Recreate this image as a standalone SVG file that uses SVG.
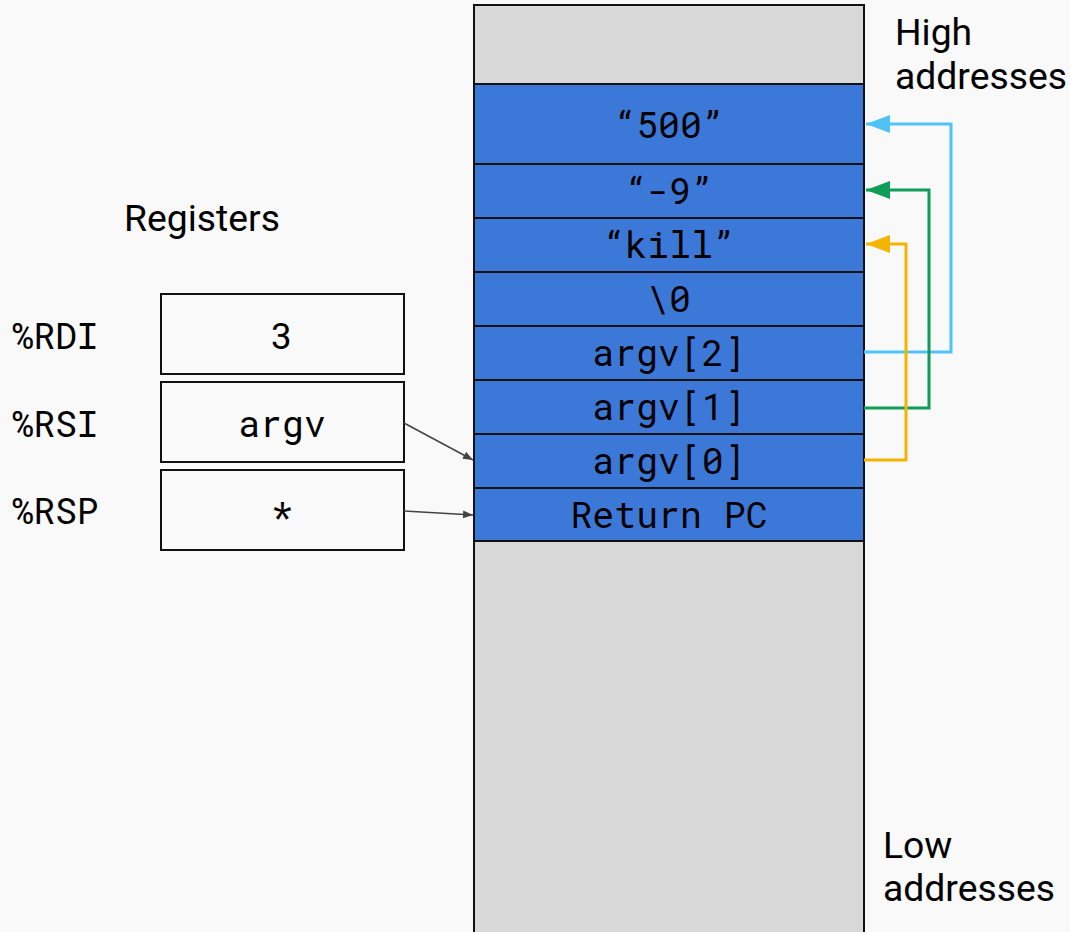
<svg xmlns="http://www.w3.org/2000/svg" width="1070" height="932" viewBox="0 0 1070 932">
<defs>
<style>
.mono{font-family:"Roboto Mono","DejaVu Sans Mono","Liberation Mono",monospace;font-size:36.5px;fill:#000;text-anchor:middle}
.lbl{font-family:"Roboto Mono","DejaVu Sans Mono","Liberation Mono",monospace;font-size:36px;fill:#000}
.sans{font-family:Roboto,"Liberation Sans",Arial,sans-serif;font-size:37.3px;fill:#000}
.cell{fill:#3c78d8;stroke:#111;stroke-width:2}
.gray{fill:#d9d9d9;stroke:#111;stroke-width:2}
.reg{fill:#fafafa;stroke:#111;stroke-width:2}
.ptr{fill:none;stroke:#444;stroke-width:1.5}
.link{fill:none;stroke-width:3}
</style>
<marker id="ah" markerWidth="10" markerHeight="8" refX="10" refY="4" orient="auto" markerUnits="userSpaceOnUse"><path d="M0,0 L10,4 L0,8 z" fill="#444"/></marker>
<marker id="ab" markerWidth="24" markerHeight="18" refX="24" refY="9" orient="auto" markerUnits="userSpaceOnUse"><path d="M0,0 L24,9 L0,18 z" fill="#4fc3f7"/></marker>
<marker id="ag" markerWidth="24" markerHeight="18" refX="24" refY="9" orient="auto" markerUnits="userSpaceOnUse"><path d="M0,0 L24,9 L0,18 z" fill="#0f9d58"/></marker>
<marker id="ay" markerWidth="24" markerHeight="18" refX="24" refY="9" orient="auto" markerUnits="userSpaceOnUse"><path d="M0,0 L24,9 L0,18 z" fill="#f4b400"/></marker>
</defs>
<rect width="1070" height="932" fill="#f9f9f9"/>

<g id="stack">
<rect class="gray" x="474" y="5" width="390" height="79"/>
<rect class="gray" x="474" y="541" width="390" height="400"/>
</g>
<g id="cell-500"><rect class="cell" x="474" y="84" width="390" height="80"/><text class="mono" x="669" y="138">“500”</text></g>
<g id="cell-9"><rect class="cell" x="474" y="164" width="390" height="54"/><text class="mono" x="669" y="204">“-9”</text></g>
<g id="cell-kill"><rect class="cell" x="474" y="218" width="390" height="54"/><text class="mono" x="669" y="258">“kill”</text></g>
<g id="cell-nul"><rect class="cell" x="474" y="272" width="390" height="54"/><text class="mono" x="669" y="312">\0</text></g>
<g id="cell-argv2"><rect class="cell" x="474" y="326" width="390" height="54"/><text class="mono" x="669" y="366">argv[2]</text></g>
<g id="cell-argv1"><rect class="cell" x="474" y="380" width="390" height="54"/><text class="mono" x="669" y="420">argv[1]</text></g>
<g id="cell-argv0"><rect class="cell" x="474" y="434" width="390" height="54"/><text class="mono" x="669" y="474">argv[0]</text></g>
<g id="cell-retpc"><rect class="cell" x="474" y="488" width="390" height="53"/><text class="mono" x="669" y="528">Return PC</text></g>

<g id="label-high"><text class="sans" x="895" y="45">High</text><text class="sans" x="895" y="89">addresses</text></g>
<g id="label-low"><text class="sans" x="883" y="858">Low</text><text class="sans" x="883" y="901">addresses</text></g>
<g id="label-registers"><text class="sans" x="124" y="231">Registers</text></g>

<g id="reg-rdi"><text class="lbl" x="12" y="349">%RDI</text><rect class="reg" x="161" y="294" width="243" height="80"/><text class="mono" x="282" y="349">3</text></g>
<g id="reg-rsi"><text class="lbl" x="12" y="437">%RSI</text><rect class="reg" x="161" y="382" width="243" height="80"/><text class="mono" x="282" y="437">argv</text></g>
<g id="reg-rsp"><text class="lbl" x="12" y="524">%RSP</text><rect class="reg" x="161" y="470" width="243" height="80"/><text class="mono" x="282" y="528">*</text></g>

<g id="connectors">
<line class="ptr" x1="404" y1="423" x2="473" y2="460" marker-end="url(#ah)"/>
<line class="ptr" x1="404" y1="511" x2="473" y2="515" marker-end="url(#ah)"/>
<path class="link" stroke="#4fc3f7" d="M864,352 H951 V124 H866" marker-end="url(#ab)"/>
<path class="link" stroke="#0f9d58" d="M864,408 H929 V190 H866" marker-end="url(#ag)"/>
<path class="link" stroke="#f4b400" d="M864,460 H906 V244 H866" marker-end="url(#ay)"/>
</g>
</svg>
